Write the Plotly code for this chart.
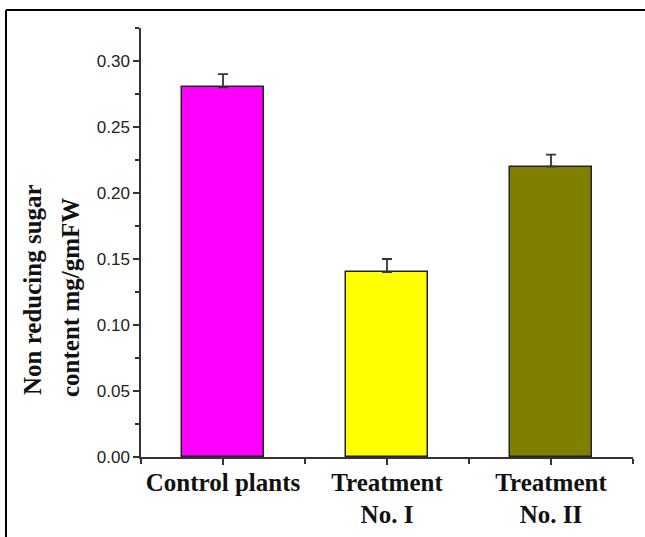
import plotly.graph_objects as go

categories = ["Control plants", "Treatment<br>No. I", "Treatment<br>No. II"]
values = [0.28, 0.14, 0.22]
errors = [0.01, 0.01, 0.009]
colors = ["#FF00FF", "#FFFF00", "#808000"]
ytitle_lines = ["Non reducing sugar", "content mg/gmFW"]
yticks = [0.00, 0.05, 0.10, 0.15, 0.20, 0.25, 0.30]

W, H = 645, 537
L, R, T, B = 141, 12, 28, 80
pw, ph = W - L - R, H - T - B

def px_x(x):
    return (x - L) / pw

def px_y(y):
    return (H - B - y) / ph

xs = list(range(len(categories)))

fig = go.Figure()
fig.add_trace(go.Bar(
    x=xs, y=values, width=0.5,
    marker=dict(color=colors, line=dict(color="#222222", width=1.5)),
    error_y=dict(type="data", array=errors, symmetric=False, arrayminus=[0]*3,
                 color="#333333", thickness=1.8, width=5),
))

fig.update_layout(
    width=W, height=H,
    margin=dict(l=L, r=R, t=T, b=B, autoexpand=False),
    paper_bgcolor="white", plot_bgcolor="white",
    showlegend=False,
    bargap=0,
)
fig.update_xaxes(
    range=[-0.5, 2.5], tickvals=xs, ticktext=categories, automargin=False,
    showline=True, linecolor="#333333", linewidth=1.5,
    ticks="outside", ticklen=6, tickcolor="#333333", tickwidth=1.5,
    ticklabelstandoff=-4,
    minor=dict(tickvals=[-0.5, 0.5, 1.5, 2.5], ticks="outside", ticklen=5,
               tickcolor="#333333", tickwidth=1.5),
    tickfont=dict(family="Liberation Serif", size=25, color="#111111", weight="bold"),
    showgrid=False, zeroline=False, fixedrange=True,
)
fig.update_yaxes(
    range=[0, 0.325], tickvals=yticks, tickformat=".2f", automargin=False,
    showline=True, linecolor="#333333", linewidth=1.5,
    ticks="outside", ticklen=6, tickcolor="#333333", tickwidth=1.5,
    minor=dict(dtick=0.05, tick0=0.025, ticks="outside", ticklen=4,
               tickcolor="#333333", tickwidth=1.5),
    tickfont=dict(family="Liberation Sans", size=17, color="#222222"),
    showgrid=False, zeroline=False, fixedrange=True,
)

# y-axis title as two rotated lines
for text, xc, yc in zip(ytitle_lines, [32, 70], [290, 298]):
    fig.add_annotation(
        text=text, xref="paper", yref="paper", x=px_x(xc), y=px_y(yc),
        showarrow=False, textangle=-90, xanchor="center", yanchor="middle",
        font=dict(family="Liberation Serif", size=25, color="#111111", weight="bold"),
    )

# outer frame lines (left and top)
fig.add_shape(type="line", xref="paper", yref="paper",
              x0=px_x(6), x1=px_x(6), y0=px_y(10), y1=px_y(H + 5),
              line=dict(color="black", width=2))
fig.add_shape(type="line", xref="paper", yref="paper",
              x0=px_x(6), x1=px_x(W + 5), y0=px_y(10), y1=px_y(10),
              line=dict(color="black", width=2))

fig.write_html("out.html", config={"displayModeBar": False},
               post_script="document.body.style.margin='0px';")
